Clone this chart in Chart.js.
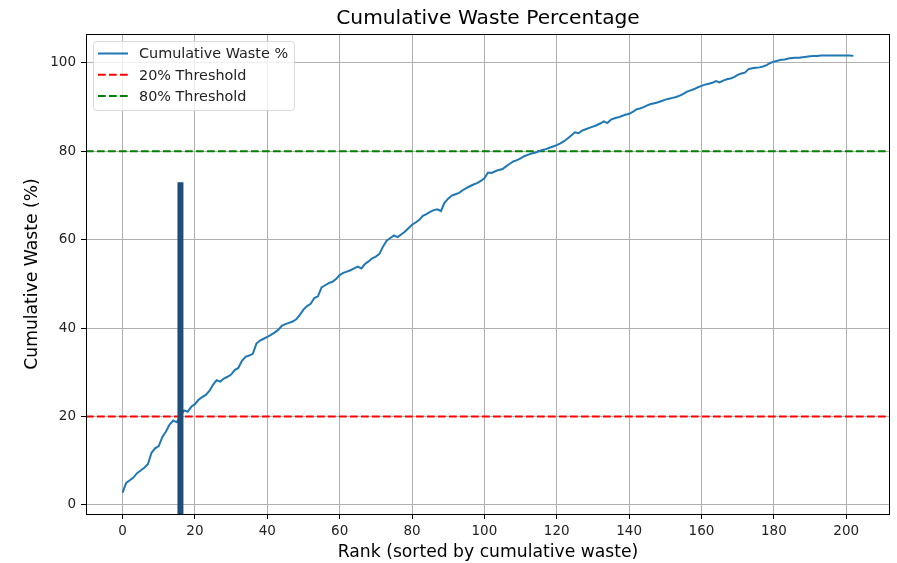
<!DOCTYPE html>
<html>
<head>
<meta charset="utf-8">
<script src="https://cdn.jsdelivr.net/npm/chart.js@4/dist/chart.umd.min.js"></script>
<style>
  html, body { margin: 0; padding: 0; background: #fff; }
  canvas { display: block; }
</style>
</head>
<body>
<canvas id="chart" width="897" height="563"></canvas>
<script>
// cumulative waste % by rank
const cumulativeWaste = [
  2.8, 5.0, 5.6, 6.2, 7.2, 7.8, 8.4, 9.2, 11.8, 12.8,
  13.3, 15.4, 16.6, 18.2, 19.1, 18.7, 20.2, 21.4, 21.1, 22.2,
  22.8, 23.8, 24.4, 24.9, 25.8, 27.2, 28.2, 27.9, 28.6, 29.0,
  29.5, 30.5, 31.0, 32.6, 33.5, 33.8, 34.2, 36.5, 37.2, 37.6,
  38.0, 38.5, 39.0, 39.6, 40.5, 40.9, 41.2, 41.5, 42.0, 43.0,
  44.2, 45.0, 45.5, 46.8, 47.2, 49.2, 49.7, 50.2, 50.5, 51.1,
  52.0, 52.5, 52.8, 53.1, 53.5, 53.9, 53.5, 54.5, 55.1, 55.8,
  56.2, 56.8, 58.5, 59.8, 60.4, 61.0, 60.6, 61.2, 61.8, 62.6,
  63.4, 63.9, 64.5, 65.4, 65.8, 66.3, 66.7, 66.9, 66.5, 68.4,
  69.3, 70.0, 70.3, 70.6, 71.2, 71.7, 72.1, 72.5, 72.8, 73.3,
  73.9, 75.2, 75.1, 75.5, 75.8, 76.0, 76.6, 77.2, 77.7, 78.0,
  78.4, 78.9, 79.2, 79.5, 79.7, 80.0, 80.3, 80.5, 80.8, 81.1,
  81.4, 81.8, 82.3, 82.9, 83.6, 84.3, 84.1, 84.7, 85.0, 85.3,
  85.6, 85.9, 86.3, 86.8, 86.4, 87.2, 87.5, 87.7, 88.0, 88.3,
  88.5, 88.9, 89.5, 89.7, 90.0, 90.4, 90.7, 90.9, 91.1, 91.4,
  91.7, 91.9, 92.1, 92.3, 92.6, 93.0, 93.5, 93.8, 94.1, 94.5,
  94.8, 95.1, 95.3, 95.5, 95.9, 95.6, 96.0, 96.3, 96.5, 96.8,
  97.3, 97.6, 97.8, 98.6, 98.8, 98.9, 99.0, 99.2, 99.5, 100.0,
  100.3, 100.5, 100.7, 100.8, 101.0, 101.1, 101.2, 101.2, 101.3, 101.4,
  101.5, 101.6, 101.6, 101.7, 101.7, 101.7, 101.7, 101.7, 101.7, 101.7,
  101.7, 101.7, 101.6
];
const thresholds = [20, 80];
const thresholdLabels = ['20% Threshold', '80% Threshold'];
const markerRank = 16;
const markerHeight = 73;
const xTicks = [0, 20, 40, 60, 80, 100, 120, 140, 160, 180, 200];
const yTicks = [0, 20, 40, 60, 80, 100];
const xRange = [-10.1, 212.1];
const yRange = [-2.05, 106.55];

const FONT = '"DejaVu Sans", sans-serif';
const ranks = cumulativeWaste.map((_, i) => i);

// frame, title and matplotlib-style legend
Chart.register({
  id: 'mplDecor',
  afterDraw(chart) {
    const ctx = chart.ctx;
    const a = chart.chartArea;
    ctx.save();
    ctx.strokeStyle = '#000';
    ctx.lineWidth = 1;
    ctx.strokeRect(a.left + 0.5, a.top + 0.5, a.right - a.left - 1, a.bottom - a.top);

    ctx.fillStyle = '#000';
    ctx.font = '20.2px ' + FONT;
    ctx.textAlign = 'center';
    ctx.textBaseline = 'middle';
    ctx.fillText('Cumulative Waste Percentage', (a.left + a.right) / 2, 19);

    // legend box
    const bx = 93.5, by = 41.5, bw = 201, bh = 69, r = 3;
    ctx.beginPath();
    ctx.roundRect(bx, by, bw, bh, r);
    ctx.fillStyle = 'rgba(255,255,255,0.8)';
    ctx.fill();
    ctx.strokeStyle = '#d9d9d9';
    ctx.stroke();

    const items = chart.data.datasets.filter(d => d.inLegend);
    ctx.font = '14.4px ' + FONT;
    ctx.textAlign = 'left';
    items.forEach((d, i) => {
      const y = 53.5 + i * 21.3;
      ctx.beginPath();
      ctx.strokeStyle = d.borderColor;
      ctx.lineWidth = 2;
      ctx.setLineDash(d.borderDash || []);
      ctx.moveTo(98, y);
      ctx.lineTo(128, y);
      ctx.stroke();
      ctx.setLineDash([]);
      ctx.fillStyle = '#222';
      ctx.fillText(d.label, 139, y + 1);
    });
    ctx.restore();
  }
});

new Chart(document.getElementById('chart'), {
  type: 'line',
  data: {
    datasets: [
      {
        label: 'marker',
        data: [{ x: markerRank, y: yRange[0] }, { x: markerRank, y: markerHeight }],
        borderColor: '#1f4e79',
        borderWidth: 6,
        borderCapStyle: 'butt',
        pointRadius: 0,
        clip: 0,
        order: 0
      },
      {
        label: 'Cumulative Waste %',
        inLegend: true,
        data: ranks.map((r, i) => ({ x: r, y: cumulativeWaste[i] })),
        borderColor: '#1f77b4',
        borderWidth: 2,
        pointRadius: 0,
        tension: 0,
        order: 1
      },
      ...thresholds.map((t, i) => ({
        label: thresholdLabels[i],
        inLegend: true,
        data: [{ x: xRange[0], y: t }, { x: xRange[1], y: t }],
        borderColor: i === 0 ? '#ff0000' : '#008000',
        borderWidth: 2,
        borderDash: [7.7, 3.3],
        pointRadius: 0,
        order: 2
      }))
    ]
  },
  options: {
    responsive: false,
    animation: false,
    layout: { padding: { top: 34, right: 7, left: 0, bottom: 0 } },
    plugins: {
      legend: { display: false },
      title: { display: false },
      tooltip: { enabled: false }
    },
    scales: {
      x: {
        type: 'linear',
        min: xRange[0],
        max: xRange[1],
        afterBuildTicks: axis => { axis.ticks = xTicks.map(v => ({ value: v })); },
        afterFit: axis => { axis.height = 49; },
        grid: { color: '#b0b0b0', lineWidth: 1, tickColor: '#000', tickLength: 5 },
        border: { display: false },
        ticks: { color: '#222', font: { family: FONT, size: 13.5 }, padding: 4, maxRotation: 0 },
        title: {
          display: true,
          text: 'Rank (sorted by cumulative waste)',
          color: '#000',
          font: { family: FONT, size: 17.2 },
          padding: { top: 0, bottom: 0 }
        }
      },
      y: {
        type: 'linear',
        min: yRange[0],
        max: yRange[1],
        afterBuildTicks: axis => { axis.ticks = yTicks.map(v => ({ value: v })); },
        afterFit: axis => { axis.width = 86; },
        grid: { color: '#b0b0b0', lineWidth: 1, tickColor: '#000', tickLength: 5 },
        border: { display: false },
        ticks: { color: '#222', font: { family: FONT, size: 13.5 }, padding: 5 },
        title: {
          display: true,
          text: 'Cumulative Waste (%)',
          color: '#000',
          font: { family: FONT, size: 17.2 },
          padding: { top: 22, bottom: 0 }
        }
      }
    }
  }
});
</script>
</body>
</html>
